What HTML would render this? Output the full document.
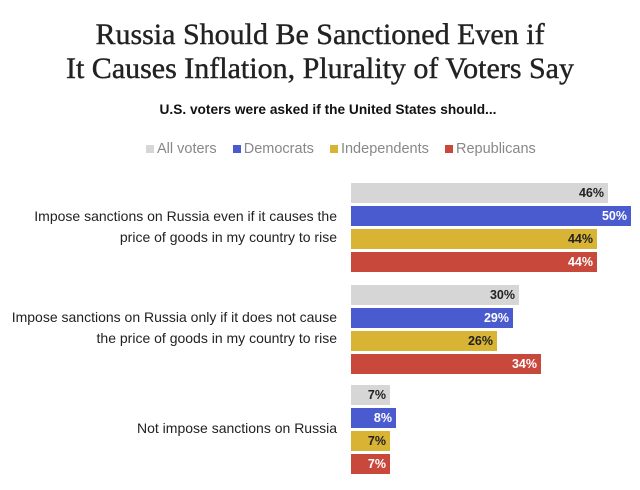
<!DOCTYPE html>
<html><head><style>
body{margin:0;width:640px;height:490px;background:#fff;font-family:"Liberation Sans",sans-serif;position:relative;overflow:hidden}
.t{position:absolute;left:0;width:640px;text-align:center;font-family:"Liberation Serif",serif;font-size:30px;color:#222;-webkit-text-stroke:0.4px #222}
.sub{position:absolute;top:102px;left:0;width:640px;text-align:center;font-weight:bold;font-size:13.7px;color:#111;padding-left:16px;box-sizing:border-box}
.leg{position:absolute;top:141px;left:146px;font-size:14.5px;color:#888;white-space:nowrap}
.leg span{display:inline-block;width:8px;height:8px;margin:0 3px 0 0}
.b{position:absolute;left:351px;height:20px;font-size:12.5px;font-weight:bold;text-align:right;line-height:20px;box-sizing:border-box;padding-right:4px}
.g{background:#d6d6d6;color:#222}.d{background:#4a5bcf;color:#fff}.i{background:#d8b334;color:#222}.r{background:#c9483c;color:#fff}
.lab{position:absolute;right:303px;text-align:right;font-size:14px;color:#222;line-height:21px}
</style></head><body>
<div class="t" style="top:18px">Russia Should Be Sanctioned Even if</div>
<div class="t" style="top:52px">It Causes Inflation, Plurality of Voters Say</div>
<div class="sub">U.S. voters were asked if the United States should...</div>
<div class="leg"><span style="background:#d6d6d6"></span>All voters &nbsp;&nbsp; <span style="background:#4a5bcf"></span>Democrats &nbsp;&nbsp; <span style="background:#d8b334"></span>Independents &nbsp;&nbsp; <span style="background:#c9483c"></span>Republicans</div>
<div class="lab" style="top:206px">Impose sanctions on Russia even if it causes the<br>price of goods in my country to rise</div>
<div class="lab" style="top:307px">Impose sanctions on Russia only if it does not cause<br>the price of goods in my country to rise</div>
<div class="lab" style="top:418px">Not impose sanctions on Russia</div>
<div class="b g" style="top:183px;width:257px">46%</div>
<div class="b d" style="top:206px;width:280px">50%</div>
<div class="b i" style="top:229px;width:246px">44%</div>
<div class="b r" style="top:252px;width:246px">44%</div>
<div class="b g" style="top:285px;width:168px">30%</div>
<div class="b d" style="top:308px;width:162px">29%</div>
<div class="b i" style="top:331px;width:146px">26%</div>
<div class="b r" style="top:354px;width:190px">34%</div>
<div class="b g" style="top:385px;width:39px">7%</div>
<div class="b d" style="top:408px;width:45px">8%</div>
<div class="b i" style="top:431px;width:39px">7%</div>
<div class="b r" style="top:454px;width:39px">7%</div>
</body></html>
